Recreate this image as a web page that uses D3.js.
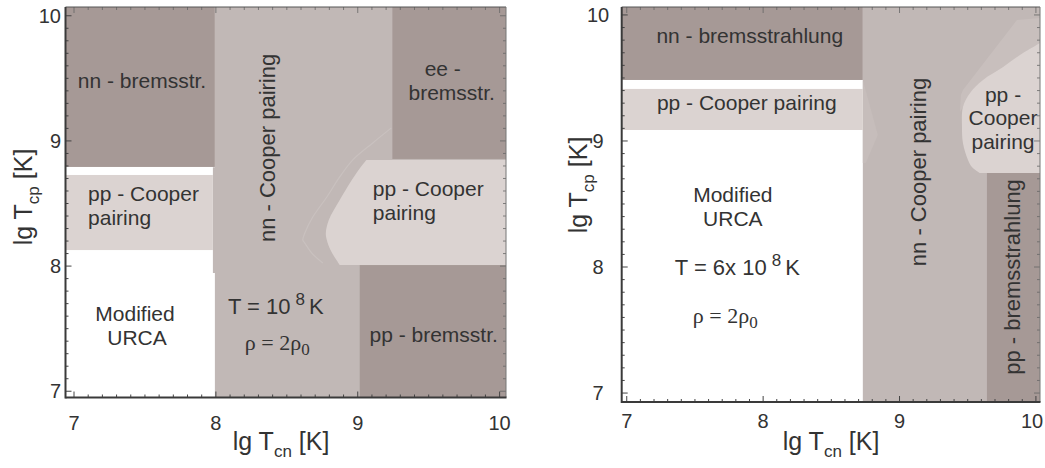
<!DOCTYPE html>
<html>
<head>
<meta charset="utf-8">
<script src="https://cdn.jsdelivr.net/npm/d3@7"></script>
<style>
  body { margin: 0; background: #fff; }
  svg { display: block; }
  text { font-family: "Liberation Sans", Arial, sans-serif; fill: #333; }
  .serif { font-family: "Liberation Serif", "Times New Roman", serif; }
</style>
</head>
<body>
<svg id="chart" width="1045" height="468"></svg>
<script>
// ---- axis values ----
const majorTicks = [7, 8, 9, 10];
const tickLabels = ["7", "8", "9", "10"];
const minorStep = 0.1;

// ---- left panel (T = 1e8 K): regions in (lg Tcn, lg Tcp) ----
const leftDomainX = [6.94, 10.045];
const leftDomainY = [6.95, 10.07];
const leftNnCooper = [[7.993, 10.07], [10.045, 10.07], [10.045, 6.95], [7.993, 6.95], [7.993, 7.944], [7.979, 7.944], [7.979, 8.79], [7.993, 8.79]];
const leftNnBrems = [[6.94, 8.792], [7.993, 10.07]];
const leftPpCooperLow = [[6.94, 8.128], [7.979, 8.728]];
const leftEeBrems = [[9.244, 8.856], [10.045, 10.07]];
const leftPpBrems = [[9.014, 6.95], [10.045, 8.008]];
const leftPpCooperEdge = [[9.061, 8.848], [8.991, 8.744], [8.873, 8.528], [8.796, 8.368], [8.775, 8.264], [8.782, 8.208], [8.808, 8.128], [8.850, 8.048], [8.873, 8.008]];
const leftPpCooperCorners = [[10.045, 8.008], [10.045, 8.848]];
const leftOnsetEdge = [[9.237, 9.104], [9.106, 8.984], [8.965, 8.848], [8.873, 8.712], [8.782, 8.552], [8.683, 8.392], [8.627, 8.264], [8.613, 8.208], [8.627, 8.184], [8.676, 8.104], [8.754, 8.024]];

// ---- right panel (T = 6e8 K) ----
const rightDomainX = [6.963, 10.03];
const rightDomainY = [6.929, 10.063];
const rightNnCooper = [[8.731, 6.929], [10.03, 10.063]];
const rightNnBrems = [[6.963, 9.484], [8.731, 10.063]];
const rightPpCooperStrip = [[6.963, 9.087], [8.731, 9.413]];
const rightPpBrems = [[9.641, 6.929], [10.03, 8.746]];
const rightPpCooperEdge = [[10.03, 9.778], [9.905, 9.698], [9.759, 9.587], [9.612, 9.484], [9.517, 9.381], [9.465, 9.270], [9.458, 9.111], [9.465, 8.984], [9.502, 8.849], [9.531, 8.794], [9.590, 8.746]];
const rightPpCooperCorners = [[10.03, 8.746]];
const rightOnsetBand = [[9.861, 9.960], [10.03, 9.976], [10.03, 9.778], [9.905, 9.698], [9.759, 9.587], [9.612, 9.484], [9.517, 9.381], [9.465, 9.270], [9.443, 9.230], [9.450, 9.365], [9.465, 9.405]];
const rightStripWedge = [[8.731, 9.484], [8.841, 9.048], [8.753, 8.825], [8.731, 8.825]];

// ---- shades ----
const dark = "#a69996";
const medium = "#c1b8b6";
const light = "#dbd3d1";

const svg = d3.select("#chart");
const width = +svg.attr("width");

function makePanel(domX, domY, rangeX, rangeY) {
  const x = d3.scaleLinear().domain(domX).range(rangeX);
  const y = d3.scaleLinear().domain(domY).range(rangeY);
  const g = svg.append("g");
  return { x, y, g };
}

function rect(p, corners, fill) {
  const [[x0, y0], [x1, y1]] = corners;
  p.g.append("rect")
    .attr("x", p.x(x0)).attr("y", p.y(y1))
    .attr("width", p.x(x1) - p.x(x0)).attr("height", p.y(y0) - p.y(y1))
    .attr("fill", fill);
}

function poly(p, pts, fill) {
  const line = d3.line().x(d => p.x(d[0])).y(d => p.y(d[1]));
  p.g.append("path").attr("d", line(pts) + "Z").attr("fill", fill);
}

function curvedRegion(p, edge, corners, fill) {
  const curve = d3.line().x(d => p.x(d[0])).y(d => p.y(d[1])).curve(d3.curveCatmullRom);
  let d = curve(edge);
  corners.forEach(c => { d += `L${p.x(c[0])},${p.y(c[1])}`; });
  p.g.append("path").attr("d", d + "Z").attr("fill", fill);
}

function frame(p) {
  const [x0, x1] = p.x.range();
  const [y0, y1] = p.y.range();
  const g = p.g.append("g");
  const stepsIn = dom => {
    const lo = Math.ceil(dom[0] / minorStep - 1e-6);
    const hi = Math.floor(dom[1] / minorStep + 1e-6);
    return d3.range(lo, hi + 1).map(k => +(k * minorStep).toFixed(2));
  };
  const minorX = stepsIn(p.x.domain());
  const minorY = stepsIn(p.y.domain());
  const isMajor = v => majorTicks.some(m => Math.abs(m - v) < 1e-6);
  minorX.forEach(v => {
    const len = isMajor(v) ? 6 : 3;
    g.append("line").attr("x1", p.x(v)).attr("x2", p.x(v)).attr("y1", y0).attr("y2", y0 - len)
      .attr("stroke", "#444").attr("stroke-width", 1);
    g.append("line").attr("x1", p.x(v)).attr("x2", p.x(v)).attr("y1", y1).attr("y2", y1 + len)
      .attr("stroke", "#666").attr("stroke-width", 0.8);
  });
  minorY.forEach(v => {
    const len = isMajor(v) ? 6 : 3;
    g.append("line").attr("y1", p.y(v)).attr("y2", p.y(v)).attr("x1", x0).attr("x2", x0 + len)
      .attr("stroke", "#444").attr("stroke-width", 1);
    g.append("line").attr("y1", p.y(v)).attr("y2", p.y(v)).attr("x1", x1).attr("x2", x1 - len)
      .attr("stroke", "#666").attr("stroke-width", 0.8);
  });
  g.append("line").attr("x1", x0).attr("x2", x1).attr("y1", y1).attr("y2", y1).attr("stroke", "#555").attr("stroke-width", 1);
  g.append("line").attr("x1", x1).attr("x2", x1).attr("y1", y1).attr("y2", y0).attr("stroke", "#777").attr("stroke-width", 1);
  g.append("line").attr("x1", x0).attr("x2", x1 + 0.5).attr("y1", y0).attr("y2", y0).attr("stroke", "#3a3a3a").attr("stroke-width", 2);
  g.append("line").attr("x1", x0).attr("x2", x0).attr("y1", y0 + 1).attr("y2", y1).attr("stroke", "#3a3a3a").attr("stroke-width", 2);
}

function tickText(p, xLabelBaseline, yLabelX, yAnchor) {
  majorTicks.forEach((v, i) => {
    // keep the last label inside the page
    const tx = Math.min(p.x(v), width - 13);
    p.g.append("text").attr("x", tx).attr("y", xLabelBaseline)
      .attr("text-anchor", "middle").attr("font-size", 20).text(tickLabels[i]);
    p.g.append("text").attr("x", yLabelX).attr("y", p.y(v)).attr("dy", "0.36em")
      .attr("text-anchor", yAnchor).attr("font-size", 20).text(tickLabels[i]);
  });
}

function axisTitles(p, bottomCx, bottomBaseline, leftBaselineX, leftCy) {
  const t = p.g.append("text").attr("x", bottomCx).attr("y", bottomBaseline)
    .attr("text-anchor", "middle").attr("font-size", 25);
  t.append("tspan").text("lg T");
  t.append("tspan").attr("font-size", 17).attr("dy", 7).text("cn");
  t.append("tspan").attr("dy", -7).text(" [K]");
  const r = p.g.append("text").attr("transform", `translate(${leftBaselineX},${leftCy}) rotate(-90)`)
    .attr("text-anchor", "middle").attr("font-size", 25);
  r.append("tspan").text("lg T");
  r.append("tspan").attr("font-size", 17).attr("dy", 7).text("cp");
  r.append("tspan").attr("dy", -7).text(" [K]");
}

function label(p, lines, dx, baseY, lineGap, anchor) {
  lines.forEach((s, i) => {
    p.g.append("text").attr("x", p.x(dx[i] !== undefined ? dx[i] : dx[0]))
      .attr("y", p.y(baseY) + i * lineGap)
      .attr("text-anchor", anchor).attr("font-size", 21).text(s);
  });
}

function vLabel(p, s, bx, cy) {
  p.g.append("text").attr("transform", `translate(${p.x(bx)},${p.y(cy)}) rotate(-90)`)
    .attr("text-anchor", "middle").attr("font-size", 22).text(s);
}

function tempLabel(p, sx, by, prefix) {
  const t = p.g.append("text").attr("x", p.x(sx)).attr("y", p.y(by)).attr("font-size", 22);
  t.append("tspan").text(prefix + " 10");
  t.append("tspan").attr("font-size", 17).attr("dx", 5).attr("dy", -9).text("8");
  t.append("tspan").attr("dx", 4).attr("dy", 9).text("K");
}

function densityLabel(p, sx, by) {
  const t = p.g.append("text").attr("class", "serif").attr("x", p.x(sx)).attr("y", p.y(by)).attr("font-size", 22);
  t.append("tspan").text("\u03C1 = 2\u03C1");
  t.append("tspan").attr("font-size", 17).attr("dy", 5).attr("class", "serif").text("0");
}

// ================= left panel =================
const L = makePanel(leftDomainX, leftDomainY, [65.5, 506], [397.5, 7]);
poly(L, leftNnCooper, medium);
L.g.append("path")
  .attr("d", d3.line().x(d => L.x(d[0])).y(d => L.y(d[1])).curve(d3.curveCatmullRom)(leftOnsetEdge))
  .attr("fill", "none").attr("stroke", "#c9c1bf").attr("stroke-width", 1.2);
rect(L, leftNnBrems, dark);
rect(L, leftPpCooperLow, light);
rect(L, leftEeBrems, dark);
rect(L, leftPpBrems, dark);
curvedRegion(L, leftPpCooperEdge, leftPpCooperCorners, light);
frame(L);
tickText(L, 430, 61, "end");
axisTitles(L, 281, 450, 32, 197);

label(L, ["nn - bremsstr."], [7.479], 9.424, 0, "middle");
label(L, ["pp - Cooper", "pairing"], [7.099], 8.52, 24, "start");
vLabel(L, "nn - Cooper pairing", 8.415, 8.944);
label(L, ["ee -", "bremsstr."], [9.599, 9.662], 9.52, 24, "middle");
label(L, ["pp - Cooper", "pairing"], [9.106], 8.56, 24, "start");
label(L, ["Modified", "URCA"], [7.43, 7.444], 7.56, 24, "middle");
label(L, ["pp - bremsstr."], [9.535], 7.392, 0, "middle");
tempLabel(L, 8.085, 7.616, "T =");
densityLabel(L, 8.204, 7.328);

// ================= right panel =================
const R = makePanel(rightDomainX, rightDomainY, [621.7, 1040], [402, 7]);
rect(R, rightNnCooper, medium);
poly(R, rightOnsetBand, "#c8bfbd");
poly(R, rightStripWedge, "#c6bdbb");
rect(R, rightNnBrems, dark);
rect(R, rightPpCooperStrip, light);
rect(R, rightPpBrems, dark);
curvedRegion(R, rightPpCooperEdge, rightPpCooperCorners, light);
frame(R);
tickText(R, 428, 598, "middle");
axisTitles(R, 831, 450, 587, 185);

label(R, ["nn - bremsstrahlung"], [7.902], 9.778, 0, "middle");
label(R, ["pp - Cooper pairing"], [7.880], 9.246, 0, "middle");
vLabel(R, "nn - Cooper pairing", 9.194, 8.754);
label(R, ["pp -", "Cooper", "pairing"], [9.759], 9.31, 23.5, "middle");
vLabel(R, "pp - bremsstrahlung", 9.883, 7.921);
label(R, ["Modified", "URCA"], [7.778], 8.516, 24, "middle");
tempLabel(R, 7.352, 7.937, "T = 6x");
densityLabel(R, 7.484, 7.556);
</script>
</body>
</html>
